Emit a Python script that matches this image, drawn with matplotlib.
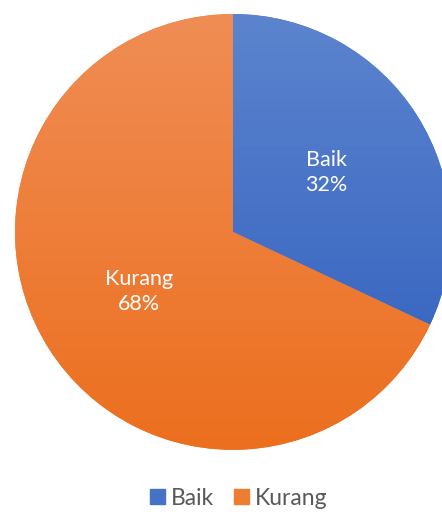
import matplotlib.pyplot as plt
import numpy as np
from matplotlib.colors import LinearSegmentedColormap

plt.rcParams['font.family'] = ['Lato', 'DejaVu Sans']

categories = ['Baik', 'Kurang']
values = [32, 68]
top_colors = ['#5C84CE', '#F08D55']
bottom_colors = ['#2E5DBD', '#EC6F1E']
flat_colors = ['#4472C4', '#ED7D31']

fig = plt.figure(figsize=(4.42, 5.12), dpi=100)
ax = fig.add_axes([0.0339, 0.121, 0.986, 0.852])

def fmt(pct, names=iter(categories)):
    return '%s\n%d%%' % (next(names), round(pct))

wedges, texts, autotexts = ax.pie(values, colors=flat_colors, startangle=90,
                                  counterclock=False, autopct=fmt,
                                  pctdistance=0.51, radius=1.0,
                                  textprops={'color': 'white', 'fontsize': 15.5,
                                             'linespacing': 1.35})

# vertical gradient like the Excel fill
grad = np.linspace(0, 1, 256).reshape(-1, 1)
for w, c1, c2 in zip(wedges, top_colors, bottom_colors):
    cmap = LinearSegmentedColormap.from_list('g', [c1, c2])
    im = ax.imshow(grad, cmap=cmap, extent=[-1, 1, -1, 1], aspect='auto',
                   zorder=w.get_zorder() + 0.1)
    im.set_clip_path(w)
for t in autotexts:
    t.set_zorder(5)

ax.set_xlim(-1, 1)
ax.set_ylim(-1, 1)
ax.set_aspect('equal')
ax.axis('off')

handles = [plt.Rectangle((0, 0), 1, 1, color=c) for c in flat_colors]
fig.legend(handles, categories, loc='center', bbox_to_anchor=(0.54, 0.027),
           ncol=2, frameon=False, fontsize=16.5, handlelength=0.65, handleheight=0.65,
           handletextpad=0.25, columnspacing=0.9, labelcolor='#595959')

plt.savefig('out.png', dpi=100)
